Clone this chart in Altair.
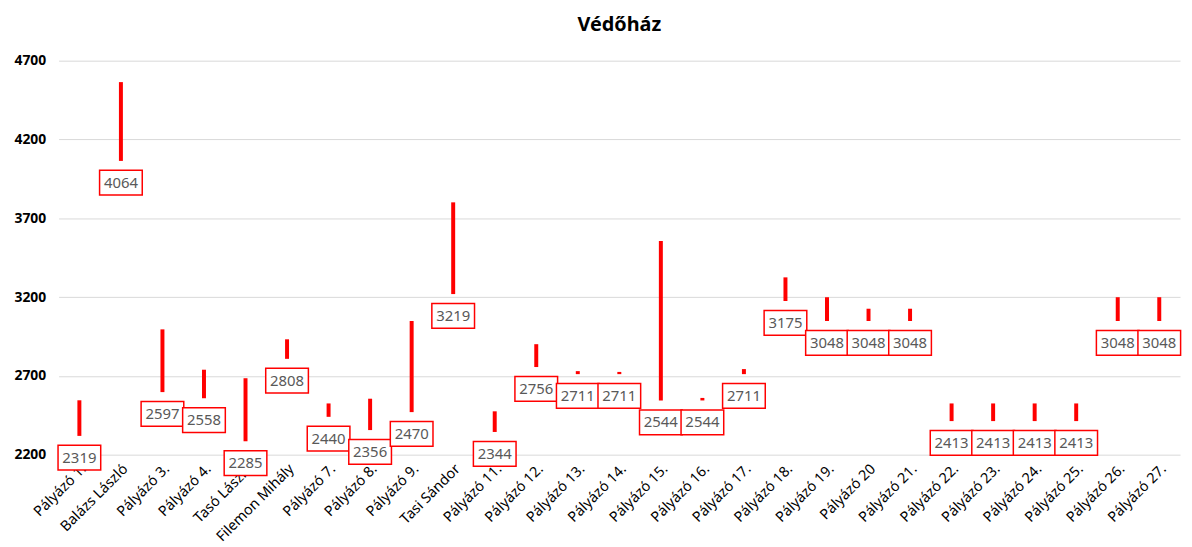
import altair as alt
import pandas as pd

names = ["Pályázó 1.", "Balázs László", "Pályázó 3.", "Pályázó 4.", "Tasó László",
         "Filemon Mihály", "Pályázó 7.", "Pályázó 8.", "Pályázó 9.", "Tasi Sándor",
         "Pályázó 11.", "Pályázó 12.", "Pályázó 13.", "Pályázó 14.", "Pályázó 15.",
         "Pályázó 16.", "Pályázó 17.", "Pályázó 18.", "Pályázó 19.", "Pályázó 20",
         "Pályázó 21.", "Pályázó 22.", "Pályázó 23.", "Pályázó 24.", "Pályázó 25.",
         "Pályázó 26.", "Pályázó 27."]
low = [2319, 4064, 2597, 2558, 2285, 2808, 2440, 2356, 2470, 3219, 2344, 2756, 2711,
       2711, 2544, 2544, 2711, 3175, 3048, 3048, 3048, 2413, 2413, 2413, 2413, 3048, 3048]
high = [2545, 4564, 2995, 2739, 2685, 2932, 2525, 2555, 3048, 3801, 2475, 2901, 2730,
        2725, 3556, 2560, 2743, 3325, 3199, 3126, 3126, 2525, 2525, 2525, 2525, 3199, 3199]
y_ticks = [2200, 2700, 3200, 3700, 4200, 4700]

df = pd.DataFrame({"name": names, "low": low, "high": high})

x = alt.X("name:N", sort=names, title=None,
          scale=alt.Scale(paddingInner=0, paddingOuter=0),
          axis=alt.Axis(labelAngle=-45, labelFontSize=14.5, labelFont="Noto Sans",
                        labelColor="#000000", ticks=False, domain=False,
                        labelPadding=7, labelOverlap=False))
y = alt.Y("low:Q", title=None,
          scale=alt.Scale(domain=[2200, 4700], nice=False, zero=False),
          axis=alt.Axis(values=y_ticks, format="d", labelFontSize=14,
                        labelFont="Noto Sans",
                        labelFontWeight="bold", labelColor="#000000", ticks=False,
                        domain=False, labelPadding=13, gridColor="#D9D9D9",
                        gridWidth=1))

bars = alt.Chart(df).mark_bar(width=4, color="#FF0000").encode(
    x=x, y=y, y2="high:Q")

boxes = alt.Chart(df).mark_point(
    shape="M-1,-0.58H1V0.58H-1Z", size=1849, filled=False, fill="#FFFFFF",
    fillOpacity=1, stroke="#FF0000", strokeWidth=1.5, opacity=1, yOffset=22
).encode(x=x, y="low:Q")

texts = alt.Chart(df).mark_text(
    font="Noto Sans", fontSize=15, color="#595959", baseline="middle",
    align="center", yOffset=22
).encode(x=x, y="low:Q", text="low:Q")

chart = alt.layer(bars, boxes, texts).properties(
    width=1130, height=397,
    padding={"left": 5, "top": 5, "right": 0, "bottom": 5},
    title=alt.TitleParams("Védőház", fontSize=20, font="Noto Sans",
                          fontWeight="bold", color="#000000", offset=19,
                          anchor="middle")
).configure_view(stroke=None)

chart.save("out.html", embed_options={"renderer": "svg", "actions": False})
